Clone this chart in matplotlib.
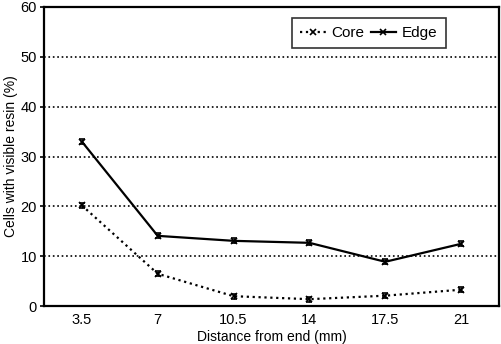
import matplotlib
matplotlib.use("Agg")
import matplotlib.pyplot as plt
from matplotlib.lines import Line2D
import numpy as np

plt.rcParams['font.family'] = ['Liberation Sans', 'DejaVu Sans']

categories = ["3.5", "7", "10.5", "14", "17.5", "21"]
core = [20.2, 6.5, 2.0, 1.4, 2.1, 3.3]
edge = [33.0, 14.1, 13.1, 12.7, 8.9, 12.5]
core_err = [0.5, 0.5, 0.5, 0.5, 0.5, 0.5]
edge_err = [0.5, 0.5, 0.5, 0.5, 0.5, 0.5]
yticks = [0, 10, 20, 30, 40, 50, 60]

fig = plt.figure(figsize=(5.02, 3.44), dpi=100)
ax = fig.add_axes([0.0876, 0.110, 0.9064, 0.8697])
x = np.arange(len(categories))

ax.errorbar(x, core, yerr=core_err, color='black', linestyle=':', linewidth=1.6,
            marker='x', markersize=5, markeredgewidth=1.2, capsize=2.5, elinewidth=1)
ax.errorbar(x, edge, yerr=edge_err, color='black', linestyle='-', linewidth=1.6,
            marker='x', markersize=5, markeredgewidth=1.2, capsize=2.5, elinewidth=1)

ax.set_xlim(-0.5, 5.5)
ax.set_ylim(0, 60)
ax.set_xticks(x)
ax.set_xticklabels(categories)
ax.set_yticks(yticks)
for yv in yticks[1:-1]:
    ax.axhline(yv, color='black', linestyle=':', linewidth=1.2, zorder=0)

for s in ax.spines.values():
    s.set_linewidth(1.6)
ax.tick_params(axis='both', labelsize=10.5, length=3, width=1.2, pad=2)
ax.tick_params(axis='x', length=0, pad=5)

ax.set_xlabel('Distance from end (mm)', fontsize=10, labelpad=2)
ax.set_ylabel('Cells with visible resin (%)', fontsize=10, labelpad=2)

handles = [
    Line2D([], [], color='black', linestyle=':', linewidth=1.6, marker='x',
           markersize=5, markeredgewidth=1.2),
    Line2D([], [], color='black', linestyle='-', linewidth=1.6, marker='x',
           markersize=5, markeredgewidth=1.2),
]
leg = ax.legend(handles, ['Core', 'Edge'], loc='upper right', bbox_to_anchor=(0.9, 0.99),
                ncol=2, fontsize=11, frameon=True, fancybox=False, edgecolor='black',
                handlelength=1.7, columnspacing=0.4, handletextpad=0.35, borderpad=0.55)
leg.get_frame().set_linewidth(1.2)

fig.savefig('out.png', dpi=100)
